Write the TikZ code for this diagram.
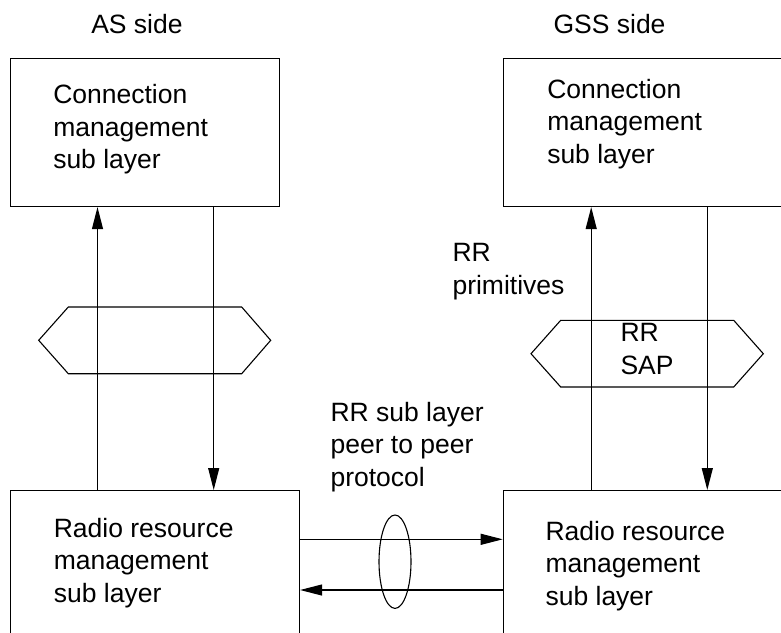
\documentclass[tikz,border=0pt]{standalone}
\usepackage{fontspec}
\setmainfont{Liberation Sans}
\usetikzlibrary{arrows.meta}

\begin{document}
\begin{tikzpicture}[x=1pt, y=-1pt, line width=1.1pt, line join=miter,
  lbl/.style={anchor=base west, inner sep=0pt, align=left, font=\fontsize{26.5}{32.3}\selectfont},
  layerbox/.style={draw, anchor=north west, inner sep=0pt},
  prim/.style={-{Triangle[length=22pt, width=11pt]}}]

  %% canvas
  \path[use as bounding box] (0,0) rectangle (781,632);
  \clip (0,0) rectangle (781,632);

  %% layer boxes (right and bottom ones run off the page)
  \node[layerbox, minimum width=269.5pt, minimum height=148.5pt] (cmAS)   at (9.7,57.5) {};
  \node[layerbox, minimum width=300pt,   minimum height=148.5pt] (cmGSS)  at (503,57.5) {};
  \node[layerbox, minimum width=289.3pt, minimum height=160pt]   (rrmAS)  at (9.7,490) {};
  \node[layerbox, minimum width=300pt,   minimum height=160pt]   (rrmGSS) at (502.7,490) {};

  %% x / y of the primitive lines
  \coordinate (upAS)   at (97.5,0);
  \coordinate (dnAS)   at (213.7,0);
  \coordinate (upGSS)  at (591.2,0);
  \coordinate (dnGSS)  at (707.3,0);
  \coordinate (peerTx) at (0,539.3);
  \coordinate (peerRx) at (0,590);

  %% primitives
  \draw[prim] (upAS |- rrmAS.north) -- (upAS |- cmAS.south);
  \draw[prim] (dnAS |- cmAS.south) -- (dnAS |- rrmAS.north);
  \draw[prim] (upGSS |- rrmGSS.north) -- (upGSS |- cmGSS.south);
  \draw[prim] (dnGSS |- cmGSS.south) -- (dnGSS |- rrmGSS.north);

  %% peer to peer
  \draw[prim] (peerTx -| rrmAS.east) -- (peerTx -| rrmGSS.west);
  \draw[prim] (peerRx -| rrmGSS.west) -- (peerRx -| rrmAS.east);
  \draw (395,561.7) ellipse [x radius=16pt, y radius=46.7pt];

  %% SAPs
  \draw (38.7,340.3) -- (68.3,307) -- (241.7,307) -- (270.7,340.3) -- (241.7,373.7) -- (68.3,373.7) -- cycle;
  \draw (531,353.7) -- (560.7,320.3) -- (733.7,320.3) -- (763.3,353.7) -- (733.7,387) -- (560.7,387) -- cycle;

  %% labels (base = last line)
  \node[lbl] (asSide)  at (90.7,33.3) {AS side};
  \node[lbl] (gssSide) at (553,33.3)  {GSS side};
  \node[lbl] (cmASTxt)   at (52.7,168.5)  {Connection\\management\\sub layer};
  \node[lbl] (cmGSSTxt)  at (546.7,163)   {Connection\\management\\sub layer};
  \node[lbl] (rrmASTxt)  at (53.3,602)    {Radio resource\\management\\sub layer};
  \node[lbl] (rrmGSSTxt) at (545,605)     {Radio resource\\management\\sub layer};
  \node[lbl] (sapTxt)    at (620,374)     {RR\\SAP};
  \node[lbl] (primTxt)   at (452,294)     {RR\\primitives};
  \node[lbl] (peerTxt)   at (330,486)     {RR sub layer\\peer to peer\\protocol};
\end{tikzpicture}
\end{document}
